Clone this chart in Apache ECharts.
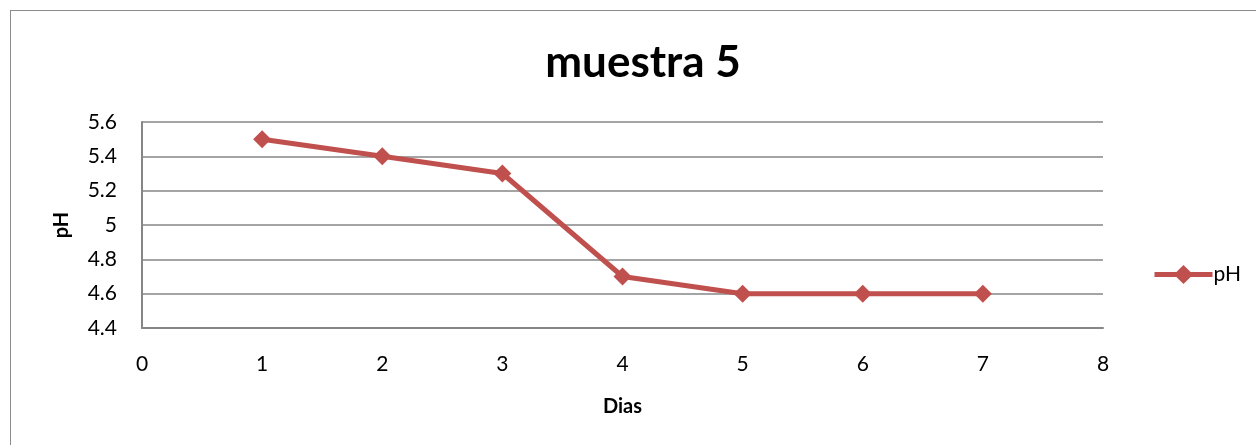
<!DOCTYPE html>
<html>
<head>
<meta charset="utf-8">
<script src="https://cdn.jsdelivr.net/npm/echarts@6/dist/echarts.min.js"></script>
<style>
  html, body { margin: 0; padding: 0; background: #fff; }
  #frame { position: absolute; left: 10px; top: 10px; width: 1260px; height: 450px; border: 1px solid #8c8c8c; }
  #chart { position: absolute; left: 0; top: 0; width: 1256px; height: 445px; }
</style>
</head>
<body>
<div id="frame"></div>
<div id="chart"></div>
<script>
const dias = [1, 2, 3, 4, 5, 6, 7];
const ph = [5.5, 5.4, 5.3, 4.7, 4.6, 4.6, 4.6];

const font = "Lato, 'Liberation Sans', sans-serif";
const chart = echarts.init(document.getElementById("chart"));

chart.setOption({
  animation: false,
  textStyle: { fontFamily: font },
  title: {
    text: "muestra 5",
    top: 36,
    left: 638,
    textAlign: "center",
    textStyle: { fontSize: 44, fontWeight: "bold", color: "#000", fontFamily: font }
  },
  legend: {
    left: 1147,
    top: 259,
    itemWidth: 58,
    itemHeight: 24,
    itemGap: 4,
    data: ["pH"],
    lineStyle: { width: 5 },
    textStyle: { fontSize: 21, color: "#000", fontFamily: font, padding: [0, 0, 0, -4] }
  },
  grid: { left: 142, right: 153, top: 122, bottom: 117 },
  xAxis: {
    type: "value",
    min: 0,
    max: 8,
    interval: 1,
    name: "Dias",
    nameLocation: "middle",
    nameGap: 69,
    nameTextStyle: { fontSize: 20, fontWeight: "bold", color: "#000", fontFamily: font },
    axisLine: { show: true, lineStyle: { color: "#868686", width: 2 } },
    axisTick: { show: false },
    splitLine: { show: false },
    axisLabel: { fontSize: 21, color: "#000", margin: 26, fontFamily: font }
  },
  yAxis: {
    type: "value",
    min: 4.4,
    max: 5.6,
    interval: 0.2,
    name: "pH",
    nameLocation: "middle",
    nameRotate: 90,
    nameGap: 70,
    nameTextStyle: { fontSize: 20, fontWeight: "bold", color: "#000", fontFamily: font },
    axisLine: { show: true, lineStyle: { color: "#868686", width: 2 } },
    axisTick: { show: false },
    splitLine: { show: true, lineStyle: { color: "#868686", width: 1.5 } },
    axisLabel: {
      fontSize: 21, color: "#000", margin: 25, fontFamily: font,
      formatter: (v) => String(Math.round(v * 10) / 10)
    }
  },
  series: [{
    name: "pH",
    type: "line",
    data: dias.map((d, i) => [d, ph[i]]),
    symbol: "diamond",
    symbolSize: 18,
    lineStyle: { color: "#C0504D", width: 5 },
    itemStyle: { color: "#C0504D" }
  }]
});
</script>
</body>
</html>
